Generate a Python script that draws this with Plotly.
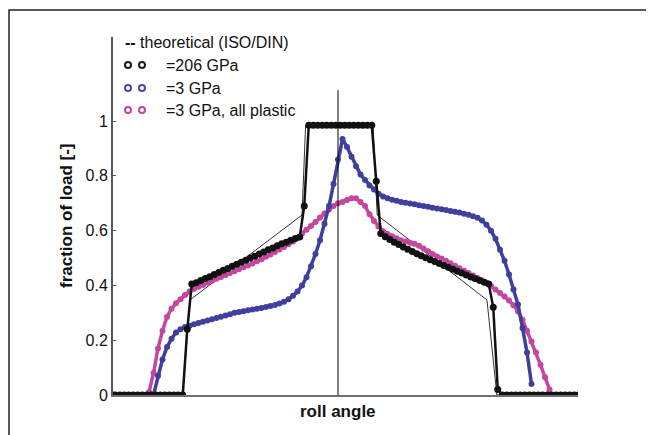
import plotly.graph_objects as go

# ---------------- data ----------------
# roll angle grid for the E=3 GPa series (integer steps, arbitrary angle units, 0 = centre)
blue_angle = list(range(-41, 44))
blue_frac = [0.0, 0.07, 0.13, 0.175, 0.205, 0.228, 0.24, 0.248, 0.253, 0.258,
             0.263, 0.267, 0.272, 0.277, 0.281, 0.286, 0.29, 0.295, 0.30, 0.303,
             0.306, 0.309, 0.312, 0.315, 0.318, 0.321, 0.325, 0.329, 0.334, 0.34,
             0.35, 0.362, 0.378, 0.40, 0.43, 0.47, 0.515, 0.565, 0.625, 0.69,
             0.77, 0.86, 0.935, 0.905, 0.87, 0.835, 0.805, 0.785, 0.765, 0.75,
             0.735, 0.725, 0.718, 0.713, 0.709, 0.705, 0.702, 0.699, 0.696, 0.693,
             0.69, 0.687, 0.684, 0.681, 0.678, 0.675, 0.672, 0.669, 0.666, 0.662,
             0.658, 0.653, 0.647, 0.637, 0.622, 0.60, 0.57, 0.53, 0.49, 0.44,
             0.385, 0.33, 0.245, 0.155, 0.04]

pink_angle = list(range(-42, 48))
pink_frac = [0.01, 0.08, 0.17, 0.235, 0.285, 0.315, 0.335, 0.35, 0.365, 0.378,
             0.388, 0.395, 0.402, 0.41, 0.417, 0.424, 0.431, 0.438, 0.445, 0.452,
             0.459, 0.466, 0.473, 0.48, 0.488, 0.496, 0.505, 0.513, 0.522, 0.531,
             0.54, 0.55, 0.56, 0.573, 0.59, 0.603, 0.617, 0.632, 0.648, 0.663,
             0.677, 0.69, 0.70, 0.705, 0.712, 0.718, 0.718, 0.705, 0.69, 0.66,
             0.635, 0.615, 0.598, 0.588, 0.58, 0.572, 0.565, 0.56, 0.556, 0.552,
             0.545, 0.535, 0.525, 0.515, 0.506, 0.498, 0.49, 0.481, 0.472, 0.463,
             0.454, 0.445, 0.436, 0.427, 0.418, 0.41, 0.398, 0.385, 0.372, 0.36,
             0.345, 0.328, 0.305, 0.275, 0.235, 0.195, 0.155, 0.11, 0.065, 0.02]

black_angle = [-50.0] + [v + 0.5 for v in range(-50, 54)]
black_frac = ([0.0] + [0.0] * 16 +
              [0.24, 0.405, 0.41, 0.418, 0.425, 0.432, 0.44, 0.447, 0.455, 0.462,
               0.47, 0.477, 0.485, 0.492, 0.50, 0.507, 0.515, 0.522, 0.53, 0.537,
               0.545, 0.552, 0.558, 0.565, 0.571, 0.577, 0.69] +
              [0.985] * 15 +
              [0.78, 0.59, 0.578, 0.568, 0.558, 0.549, 0.54, 0.532, 0.524, 0.516,
               0.508, 0.501, 0.494, 0.487, 0.48, 0.473, 0.466, 0.459, 0.452, 0.445,
               0.438, 0.431, 0.424, 0.418, 0.412, 0.405, 0.32, 0.02] +
              [0.0] * 18)

theo_angle = [-50, -34.5, -32.9, -8.0, -7.2, 7.8, 8.7, 33.1, 35.3, 53.3]
theo_frac = [0, 0, 0.347, 0.657, 0.985, 0.985, 0.657, 0.347, 0, 0]

y_ticks = [0, 0.2, 0.4, 0.6, 0.8, 1]
y_tick_labels = ["0", "0.2", "0.4", "0.6", "0.8", "1"]

legend_labels = ["=206 GPa", "=3 GPa", "=3 GPa, all plastic"]
legend_colors = ["#1a1a1a", "#4a4aa8", "#c2439e"]

FONT = "Liberation Sans, Arial, sans-serif"
BLUE = "#3f3f9e"
PINK = "#c4479f"

fig = go.Figure()

fig.add_trace(go.Scatter(x=theo_angle, y=theo_frac, mode="lines",
                         line=dict(color="#333333", width=1), hoverinfo="skip"))
fig.add_trace(go.Scatter(x=pink_angle, y=pink_frac, mode="lines+markers",
                         line=dict(color=PINK, width=3.5),
                         marker=dict(color=PINK, size=6), hoverinfo="skip"))
fig.add_trace(go.Scatter(x=blue_angle, y=blue_frac, mode="lines+markers",
                         line=dict(color=BLUE, width=3.5),
                         marker=dict(color=BLUE, size=6), hoverinfo="skip"))
fig.add_trace(go.Scatter(x=black_angle, y=black_frac, mode="lines+markers",
                         line=dict(color="#111111", width=2.5),
                         marker=dict(color="#111111", size=7), hoverinfo="skip"))

# page is shown with an 8px body margin, so work in page pixels and shift
OFF = 8
W, H = 654 - OFF, 435 - OFF
L, T = 113 - OFF, 37 - OFF
R = W - (578 - OFF)
B = H - (395 - OFF)
pw, ph = W - L - R, H - T - B


def px(xp):
    return (xp - OFF - L) / pw


def py(yp):
    return (T + ph - (yp - OFF)) / ph


shapes = [
    # outer frame (top and left visible)
    dict(type="rect", xref="paper", yref="paper", x0=px(9), x1=px(700),
         y0=py(480), y1=py(10), line=dict(color="#222222", width=1.5)),
    # centre line
    dict(type="line", xref="x", yref="y", x0=0, x1=0, y0=0, y1=1.113,
         line=dict(color="#000000", width=1)),
]

annotations = [
    dict(xref="paper", yref="paper", x=px(123), y=py(42), xanchor="left",
         yanchor="middle", showarrow=False,
         text="<b>--</b> theoretical (ISO/DIN)",
         font=dict(family=FONT, size=16, color="#111111")),
]
row_y = [65, 88, 110]
for lab, col, ry in zip(legend_labels, legend_colors, row_y):
    annotations.append(dict(xref="paper", yref="paper", x=px(164), y=py(ry),
                            xanchor="left", yanchor="middle", showarrow=False,
                            text=lab, font=dict(family=FONT, size=16, color="#111111")))
    for cx in (128, 142):
        shapes.append(dict(type="circle", xref="paper", yref="paper",
                           xsizemode="pixel", ysizemode="pixel",
                           xanchor=px(cx), yanchor=py(ry),
                           x0=-3, x1=3, y0=-3, y1=3,
                           line=dict(color=col, width=2)))

annotations.append(dict(xref="x", yref="paper", x=0, y=py(411), showarrow=False,
                        text="<b>roll angle</b>", xanchor="center", yanchor="middle",
                        font=dict(family=FONT, size=17, color="#111111")))
annotations.append(dict(xref="paper", yref="paper", x=px(66), y=0.5, showarrow=False,
                        text="<b>fraction of load [-]</b>", textangle=-90,
                        xanchor="center", yanchor="middle",
                        font=dict(family=FONT, size=17, color="#111111")))

fig.update_layout(
    width=W, height=H,
    margin=dict(l=L, r=R, t=T, b=B, pad=0),
    paper_bgcolor="white", plot_bgcolor="white",
    showlegend=False,
    shapes=shapes, annotations=annotations,
    xaxis=dict(range=[-50, 53.33], showgrid=False, zeroline=False,
               showticklabels=False, ticks="", showline=True,
               linecolor="#707070", linewidth=2),
    yaxis=dict(range=[0, 1.307], showgrid=False, zeroline=False,
               tickvals=y_ticks, ticktext=y_tick_labels, ticks="inside",
               ticklen=3, tickcolor="#555555",
               showline=True, linecolor="#555555", linewidth=2,
               tickfont=dict(family=FONT, size=16, color="#111111")),
)

fig.write_html("out.html")
